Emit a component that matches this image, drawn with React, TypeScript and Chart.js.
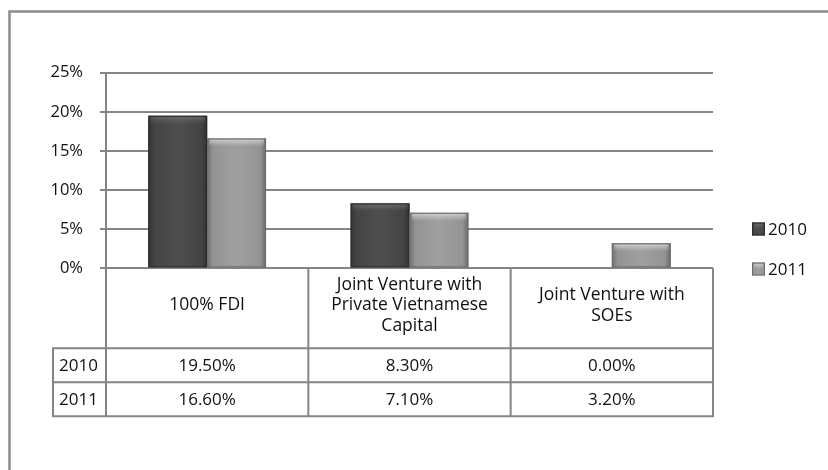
import React, { useEffect, useRef } from "react";
import { Chart, registerables } from "chart.js";

Chart.register(...registerables);

// ---- data ----
const categories: string[][] = [
  ["100% FDI"],
  ["Joint Venture with", "Private Vietnamese", "Capital"],
  ["Joint Venture with", "SOEs"],
];
const seriesNames = ["2010", "2011"];
const values2010 = [19.5, 8.3, 0.0];
const values2011 = [16.6, 7.1, 3.2];
const yMax = 25;
const yStep = 5;

const FONT = "'Open Sans', 'Noto Sans', sans-serif";
const GRID = "#858585";
const TEXT = "#111111";
const baseColors = ["#474747", "#9b9b9b"];
const edgeColors = ["#2a2a2a", "#6c6c6c"];

function drawBevelBox(
  c: CanvasRenderingContext2D,
  left: number,
  top: number,
  w: number,
  h: number,
  idx: number
) {
  if (h <= 0.5) return;
  c.save();
  c.fillStyle = baseColors[idx];
  c.fillRect(left, top, w, h);
  const hg = c.createLinearGradient(left, 0, left + w, 0);
  hg.addColorStop(0, "rgba(0,0,0,0.28)");
  hg.addColorStop(0.1, "rgba(0,0,0,0.05)");
  hg.addColorStop(0.5, "rgba(255,255,255,0.04)");
  hg.addColorStop(0.9, "rgba(0,0,0,0.05)");
  hg.addColorStop(1, "rgba(0,0,0,0.32)");
  c.fillStyle = hg;
  c.fillRect(left, top, w, h);
  const bev = Math.min(8, h / 2);
  const vg = c.createLinearGradient(0, top, 0, top + bev);
  vg.addColorStop(0, idx === 0 ? "rgba(255,255,255,0.18)" : "rgba(255,255,255,0.55)");
  vg.addColorStop(1, "rgba(255,255,255,0)");
  c.fillStyle = vg;
  c.fillRect(left + 2, top + 1, w - 4, bev);
  c.strokeStyle = edgeColors[idx];
  c.lineWidth = 1;
  c.strokeRect(left + 0.5, top + 0.5, w - 1, h - 1);
  c.restore();
}

const decoPlugin = {
  id: "deco",
  beforeDraw(chart: any) {
    const c = chart.ctx as CanvasRenderingContext2D;
    c.save();
    c.fillStyle = "#ffffff";
    c.fillRect(0, 0, chart.width, chart.height);
    c.strokeStyle = "#8c8c8c";
    c.lineWidth = 2.5;
    c.strokeRect(9.5, 11.5, chart.width + 20, chart.height + 20);
    c.restore();
  },
  afterDatasetsDraw(chart: any) {
    const c = chart.ctx as CanvasRenderingContext2D;
    chart.data.datasets.forEach((ds: any, di: number) => {
      const meta = chart.getDatasetMeta(di);
      meta.data.forEach((bar: any) => {
        const p = bar.getProps(["x", "y", "base", "width"], true);
        const top = Math.min(p.y, p.base);
        const h = Math.abs(p.base - p.y);
        drawBevelBox(c, p.x - p.width / 2, top, p.width, h, di);
      });
    });
  },
  afterDraw(chart: any) {
    const c = chart.ctx as CanvasRenderingContext2D;
    const area = chart.chartArea;
    const xs = chart.scales.x;
    const labels = chart.data.labels as string[][];
    const n = labels.length;
    const colW = (area.right - area.left) / n;
    const headerBottom = area.bottom + 80;
    const rowH = 34;
    const rows = chart.data.datasets.length;
    const tableBottom = headerBottom + rowH * rows;
    const labelLeft = area.left - 53;

    c.save();
    c.strokeStyle = GRID;
    c.lineWidth = 2;
    c.beginPath();
    for (let i = 0; i <= n; i++) {
      const xx = i < n ? xs.getPixelForValue(i) - colW / 2 : area.right;
      c.moveTo(xx, area.bottom);
      c.lineTo(xx, tableBottom);
    }
    c.moveTo(labelLeft, headerBottom);
    c.lineTo(labelLeft, tableBottom);
    for (let r = 0; r <= rows; r++) {
      const yy = headerBottom + r * rowH;
      c.moveTo(labelLeft - 1, yy);
      c.lineTo(area.right + 1, yy);
    }
    c.stroke();

    c.fillStyle = TEXT;
    c.textAlign = "center";
    c.textBaseline = "middle";
    c.font = `17.5px ${FONT}`;
    const lh = 20.5;
    const hc = area.bottom + 37;
    labels.forEach((lines, i) => {
      const cx = xs.getPixelForValue(i);
      const y0 = hc - ((lines.length - 1) * lh) / 2;
      lines.forEach((ln, k) => c.fillText(ln, cx, y0 + k * lh));
    });
    c.font = `17px ${FONT}`;
    chart.data.datasets.forEach((ds: any, r: number) => {
      const cy = headerBottom + r * rowH + rowH / 2 + 1;
      c.textAlign = "left";
      c.fillText(ds.label, labelLeft + 6, cy);
      c.textAlign = "center";
      ds.data.forEach((v: number, i: number) => {
        c.fillText(v.toFixed(2) + "%", xs.getPixelForValue(i), cy);
      });
    });

    // legend
    chart.data.datasets.forEach((ds: any, di: number) => {
      const ly = 229 + di * 40;
      drawBevelBox(c, 752, ly - 6.5, 13, 13, di);
      c.fillStyle = TEXT;
      c.textAlign = "left";
      c.textBaseline = "middle";
      c.font = `17px ${FONT}`;
      c.fillText(ds.label, 768, ly + 1);
    });
    c.restore();
  },
};

export default function App() {
  const ref = useRef<HTMLCanvasElement | null>(null);

  useEffect(() => {
    document.body.style.margin = "0";
    if (!ref.current) return;
    const chart = new Chart(ref.current, {
      type: "bar",
      data: {
        labels: categories as any,
        datasets: [
          { label: seriesNames[0], data: values2010, backgroundColor: "rgba(0,0,0,0)", borderWidth: 0 },
          { label: seriesNames[1], data: values2011, backgroundColor: "rgba(0,0,0,0)", borderWidth: 0 },
        ],
      },
      options: {
        animation: false,
        responsive: false,
        devicePixelRatio: 1,
        layout: { padding: { left: 0, right: 115, top: 72.7, bottom: 201.7 } },
        datasets: { bar: { categoryPercentage: 0.582, barPercentage: 1 } },
        plugins: { legend: { display: false }, tooltip: { enabled: false } },
        scales: {
          x: { display: false },
          y: {
            min: 0,
            max: yMax,
            afterFit: (s: any) => {
              s.width = 106;
            },
            ticks: {
              stepSize: yStep,
              padding: 17,
              color: TEXT,
              font: { family: FONT, size: 16.5 },
              callback: (v: any) => `${v}%`,
            },
            grid: { color: GRID, lineWidth: 2, tickLength: 6, drawTicks: true },
            border: { color: GRID, width: 2 },
          },
        },
      },
      plugins: [decoPlugin],
    });
    return () => chart.destroy();
  }, []);

  return (
    <div style={{ width: 828, height: 470 }}>
      <canvas ref={ref} width={828} height={470} style={{ display: "block" }} />
    </div>
  );
}
